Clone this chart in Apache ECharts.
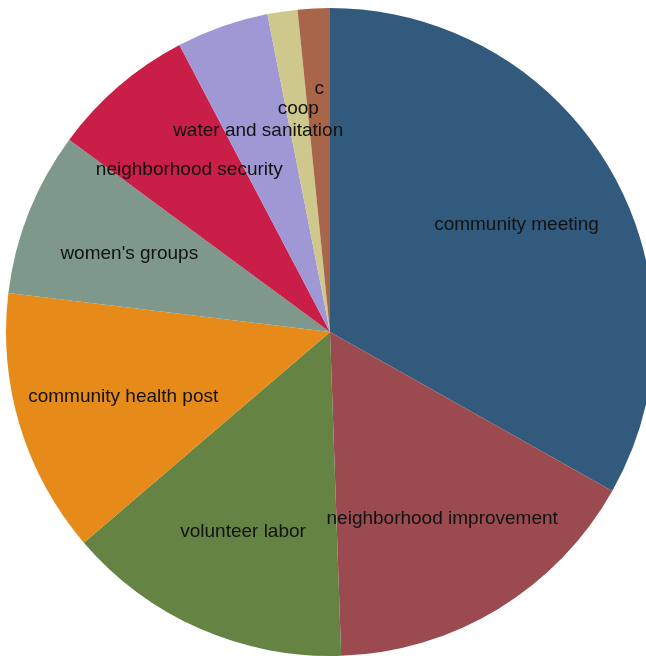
<!DOCTYPE html>
<html>
<head>
<meta charset="utf-8">
<style>
html,body{margin:0;padding:0;background:#fff;}
#chart{width:646px;height:656px;}
</style>
<script src="https://cdn.jsdelivr.net/npm/echarts@6/dist/echarts.min.js"></script>
</head>
<body>
<div id="chart"></div>
<script>
const categories = ["community meeting","neighborhood improvement","volunteer labor","community health post","women's groups","neighborhood security","water and sanitation","coop","c"];
const values = [33.2, 16.3, 14.3, 13.2, 8.2, 7.2, 4.6, 1.5, 1.6];
const colors = ["#325a7d","#9b4a4f","#658444","#e68b1a","#7e998c","#c81e47","#a098d5","#cec88c","#a8654a"];
// extra upward shift (px) for crowded small-slice labels
const labelLift = {"coop": 12, "c": 30};

const chart = echarts.init(document.getElementById('chart'));
const center = [330, 332];
const R = 324;

const mainData = categories.map((c, i) => ({name: c, value: values[i], itemStyle: {color: colors[i]}}));
const labelData = categories.map((c, i) => ({name: c, value: values[i]}));

chart.setOption({
  animation: false,
  series: [
    {
      type: 'pie',
      center: center,
      radius: [0, R],
      startAngle: 90,
      clockwise: true,
      silent: true,
      label: {show: false},
      labelLine: {show: false},
      itemStyle: {borderWidth: 0},
      data: mainData
    },
    {
      type: 'pie',
      center: center,
      radius: [102, R],
      startAngle: 90,
      clockwise: true,
      silent: true,
      avoidLabelOverlap: false,
      itemStyle: {color: 'rgba(0,0,0,0)', borderWidth: 0},
      label: {
        show: true,
        position: 'inside',
        color: '#111',
        fontFamily: 'Liberation Sans, Arial, sans-serif',
        fontSize: 19,
        formatter: '{b}'
      },
      labelLine: {show: false},
      labelLayout: function (params) {
        const name = categories[params.dataIndex];
        return {dy: 2 - (labelLift[name] || 0)};
      },
      data: labelData
    }
  ]
});
</script>
</body>
</html>
